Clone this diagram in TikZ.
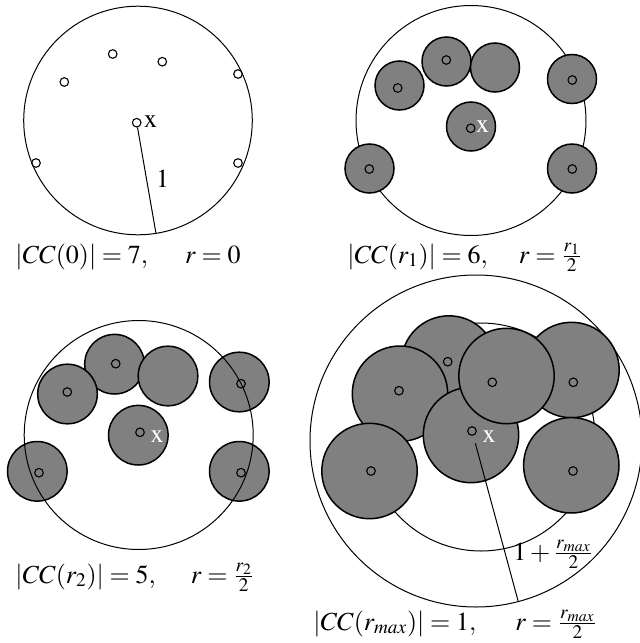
\documentclass[tikz,border=0pt]{standalone}
\usepackage[T1]{fontenc}
\usepackage{mathptmx}
\usepackage{xcolor}
\usetikzlibrary{
    positioning,
    calc
}
\definecolor{DiskGray}{HTML}{808080}
\tikzset{
    bigcircle/.style={draw=black, line width=0.5pt},
    disk/.style={draw=black, fill=DiskGray, line width=0.75pt},
    smallpt/.style={circle, draw=black, line width=0.55pt, inner sep=0pt, minimum size=4.3pt},
    ptlabel/.style={anchor=base, inner sep=0pt},
    caption/.style={anchor=base west, inner sep=0pt}
}

\begin{document}
\begin{tikzpicture}[x=0.5pt, y=-0.5pt, font=\fontsize{13}{15}\selectfont]
    \useasboundingbox (0,0) rectangle (640,643);

    % panel 1: r = 0
    \draw[bigcircle] (138,120.5) circle[radius=114.3];
    \node[smallpt] (p1a) at (64.3,82) {};
    \node[smallpt] (p1b) at (112.7,54) {};
    \node[smallpt] (p1c) at (162.3,61.7) {};
    \node[smallpt] (p1d) at (238,74) {};
    \node[smallpt] (p1x) at (136.7,122.7) {};
    \node[smallpt] (p1f) at (36,163) {};
    \node[smallpt] (p1g) at (238,163) {};
    \coordinate (e1) at (156,233.5);
    \draw[line width=0.5pt] (p1x) -- (e1);
    \node[ptlabel] (x1) at (150.5,127) {x};
    \node[ptlabel] (one1) at (162.5,187) {1};
    \node[caption] (cap1) at (15,263) {$|CC(0)| = 7,\hspace{17pt} r = 0$};

    % panel 2: r = r1/2
    \draw[bigcircle] (471,120.5) circle[radius=115];
    \draw[disk] (399.5,85.5) circle[radius=24.5];
    \draw[disk] (446.5,61.5) circle[radius=24.5];
    \draw[disk] (495,67.5) circle[radius=24.5];
    \draw[disk] (572,79) circle[radius=24.5];
    \draw[disk] (471,126.5) circle[radius=24.5];
    \draw[disk] (369.5,168.5) circle[radius=24.5];
    \draw[disk] (572,168.5) circle[radius=24.5];
    \node[smallpt] (p2a) at (397.7,88) {};
    \node[smallpt] (p2b) at (446.3,60) {};
    \node[smallpt] (p2d) at (572.3,80) {};
    \node[smallpt] (p2x) at (470.7,128.3) {};
    \node[smallpt] (p2f) at (369.3,169) {};
    \node[smallpt] (p2g) at (572.3,169) {};
    \node[ptlabel, text=white] (x2) at (482.5,132) {x};
    \node[caption] (cap2) at (347,263) {$|CC(r_1)| = 6,\hspace{14pt} r = \frac{r_1}{2}$};

    % panel 3: r = r2/2
    \draw[disk] (114.5,364.2) circle[radius=29.8];
    \draw[disk] (67.5,394) circle[radius=29.8];
    \draw[disk] (168,376) circle[radius=29.8];
    \draw[disk] (239.3,382) circle[radius=29.8];
    \draw[disk] (138.3,435.2) circle[radius=29.8];
    \draw[disk] (37.3,471.3) circle[radius=29.8];
    \draw[disk] (239.3,471.3) circle[radius=29.8];
    \draw[bigcircle] (138.7,435) circle[radius=114.5];
    \node[smallpt] (p3a) at (67.3,392) {};
    \node[smallpt] (p3b) at (115.7,363.7) {};
    \node[smallpt] (p3d) at (241,383.7) {};
    \node[smallpt] (p3x) at (140,432.3) {};
    \node[smallpt] (p3f) at (39,472.7) {};
    \node[smallpt] (p3g) at (241,472.7) {};
    \node[ptlabel, text=white] (x3) at (157,442) {x};
    \node[caption] (cap3) at (15,583) {$|CC(r_2)| = 5,\hspace{16pt} r = \frac{r_2}{2}$};

    % panel 4: r = rmax/2
    \draw[bigcircle] (476,441) circle[radius=166];
    \draw[bigcircle] (481,437) circle[radius=114];
    \draw[disk] (449,363.5) circle[radius=47.7];
    \draw[disk] (400,393.7) circle[radius=47.7];
    \draw[disk] (571.5,370) circle[radius=47.7];
    \draw[disk] (471,435) circle[radius=47.7];
    \draw[disk] (506.5,376) circle[radius=47.7];
    \draw[disk] (369.5,471) circle[radius=47.7];
    \draw[disk] (571.3,465.3) circle[radius=47.7];
    \node[smallpt] (p4a) at (447.7,361.7) {};
    \node[smallpt] (p4b) at (399,390.7) {};
    \node[smallpt] (p4c) at (573.3,382.3) {};
    \node[smallpt] (p4x) at (472,431) {};
    \node[smallpt] (p4d) at (492.3,382.3) {};
    \node[smallpt] (p4f) at (371,471) {};
    \node[smallpt] (p4g) at (573,471) {};
    \coordinate (e4) at (518.3,601.7);
    \draw[line width=0.5pt, shorten <=4pt] (p4x) -- (e4);
    \node[ptlabel, text=white] (x4) at (489,442) {x};
    \node[caption] (rad4) at (513,560) {$1+\frac{r_{max}}{2}$};
    \node[caption] (cap4) at (313,630) {$|CC(r_{max})| = 1,\hspace{18pt} r = \frac{r_{max}}{2}$};
\end{tikzpicture}
\end{document}
